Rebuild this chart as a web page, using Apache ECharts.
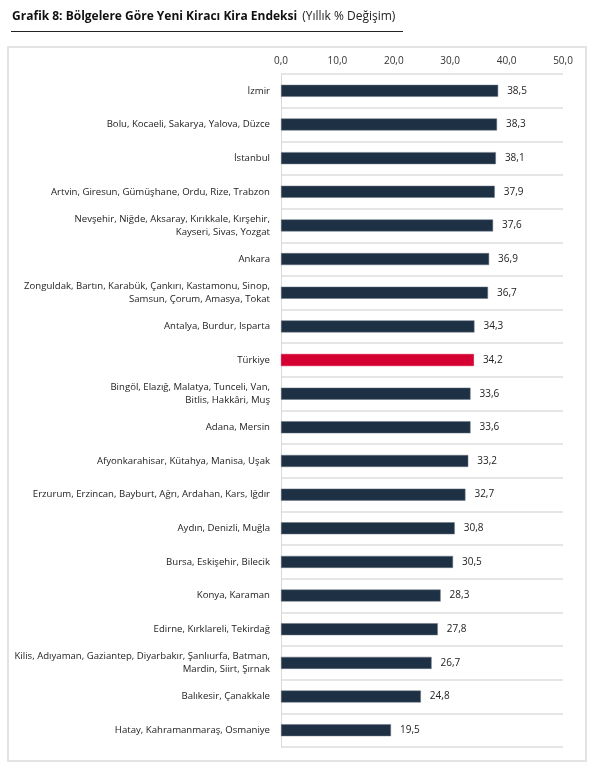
<!DOCTYPE html>
<html><head><meta charset="utf-8">
<script src="https://cdn.jsdelivr.net/npm/echarts@6/dist/echarts.min.js"></script>
<style>html,body{margin:0;padding:0;background:#fff}#c{width:605px;height:769px}</style>
</head><body><div id="c"></div>
<script>
var categories = [
  "İzmir",
  "Bolu, Kocaeli, Sakarya, Yalova, Düzce",
  "İstanbul",
  "Artvin, Giresun, Gümüşhane, Ordu, Rize, Trabzon",
  "Nevşehir, Niğde, Aksaray, Kırıkkale, Kırşehir,\nKayseri, Sivas, Yozgat",
  "Ankara",
  "Zonguldak, Bartın, Karabük, Çankırı, Kastamonu, Sinop,\nSamsun, Çorum, Amasya, Tokat",
  "Antalya, Burdur, Isparta",
  "Türkiye",
  "Bingöl, Elazığ, Malatya, Tunceli, Van,\nBitlis, Hakkâri, Muş",
  "Adana, Mersin",
  "Afyonkarahisar, Kütahya, Manisa, Uşak",
  "Erzurum, Erzincan, Bayburt, Ağrı, Ardahan, Kars, Iğdır",
  "Aydın, Denizli, Muğla",
  "Bursa, Eskişehir, Bilecik",
  "Konya, Karaman",
  "Edirne, Kırklareli, Tekirdağ",
  "Kilis, Adıyaman, Gaziantep, Diyarbakır, Şanlıurfa, Batman,\nMardin, Siirt, Şırnak",
  "Balıkesir, Çanakkale",
  "Hatay, Kahramanmaraş, Osmaniye"
];
var values = [38.5, 38.3, 38.1, 37.9, 37.6, 36.9, 36.7, 34.3, 34.2, 33.6, 33.6, 33.2, 32.7, 30.8, 30.5, 28.3, 27.8, 26.7, 24.8, 19.5];
var highlight = "Türkiye";
var xTicks = { min: 0, max: 50, interval: 10 };

var chart = echarts.init(document.getElementById('c'));
var font = "'Open Sans', sans-serif";
chart.setOption({
  animation: false,
  title: {
    left: 7, top: 3,
    text: '{b|Grafik 8: Bölgelere Göre Yeni Kiracı Kira Endeksi} {n|(Yıllık % Değişim)}',
    textStyle: { fontWeight: 'normal', rich: {
      b: { fontFamily: font, fontWeight: 'bold', fontSize: 12, color: '#111' },
      n: { fontFamily: font, fontWeight: 'normal', fontSize: 12, color: '#222' }
    } }
  },
  graphic: [
    { type: 'line', shape: { x1: 11, y1: 31.5, x2: 403, y2: 31.5 }, style: { stroke: '#222', lineWidth: 1 } },
    { type: 'rect', shape: { x: 8, y: 47, width: 578, height: 714 }, style: { fill: 'none', stroke: '#e3e3e3', lineWidth: 2 }, z: -1 }
  ],
  grid: { left: 281, right: 42, top: 74, bottom: 22 },
  xAxis: {
    type: 'value', position: 'top', min: xTicks.min, max: xTicks.max, interval: xTicks.interval,
    axisLine: { show: false }, axisTick: { show: false }, splitLine: { show: false },
    axisLabel: { fontFamily: font, fontSize: 10, color: '#333', margin: 8,
      formatter: function (v) { return v.toFixed(1).replace('.', ','); } }
  },
  yAxis: {
    type: 'category', inverse: true, data: categories,
    axisLine: { show: true, lineStyle: { color: '#d9d9d9' } },
    axisTick: { show: false },
    splitLine: { show: true, lineStyle: { color: '#dcdcdc', width: 1.5 } },
    axisLabel: { fontFamily: font, fontSize: 9.6, color: '#222', margin: 11, lineHeight: 13, align: 'right' }
  },
  series: [{
    type: 'bar', barWidth: 12,
    data: values.map(function (v, i) {
      return { value: v, itemStyle: { color: categories[i] === highlight ? '#d50032' : '#1e3044',
        borderColor: categories[i] === highlight ? '#d50032' : '#6b7580', borderWidth: 0.5 } };
    }),
    label: { show: true, position: 'right', distance: 9, fontFamily: font, fontSize: 10, color: '#222',
      formatter: function (p) { return p.value.toFixed(1).replace('.', ','); } }
  }]
});
</script></body></html>
